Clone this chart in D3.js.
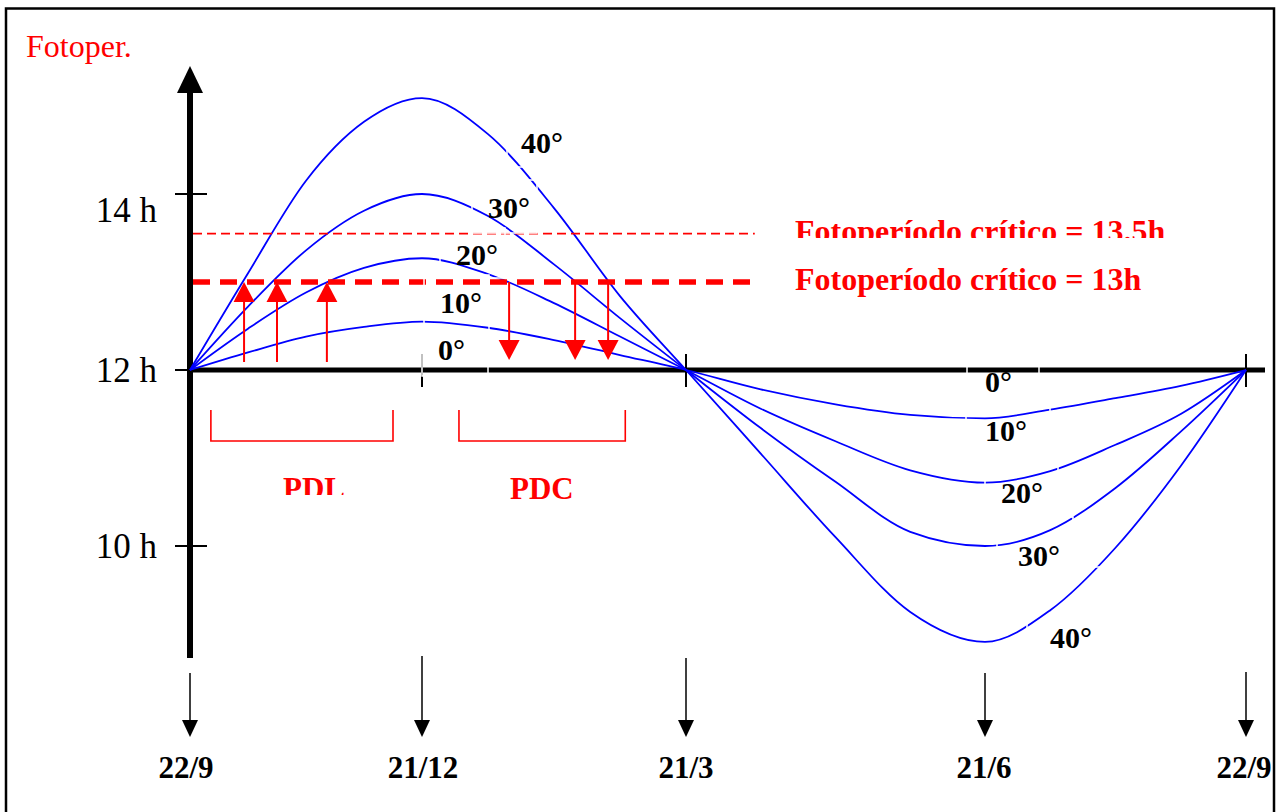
<!DOCTYPE html>
<html>
<head>
<meta charset="utf-8">
<script src="https://cdn.jsdelivr.net/npm/d3@7"></script>
<style>
  html, body { margin: 0; padding: 0; background: #fff; }
  svg { display: block; }
</style>
</head>
<body>
<div id="chart-container"></div>
<script>
// positions along the year: 0 = 22/9, 1 = 21/12, 2 = 21/3, 3 = 21/6, 4 = 22/9
const dateLabels = ["22/9", "21/12", "21/3", "21/6", "22/9"];
const datePos = [0, 1, 2, 3, 4];

const samplePos = [0, 0.25, 0.5, 0.75, 1, 1.25, 1.5, 1.75, 2, 2.25, 2.5, 2.75, 3, 3.25, 3.5, 3.75, 4];

// day length (h) per latitude
const lat40 = [12, 13.10, 14.15, 14.82, 15.09, 14.68, 13.84, 12.84, 12, 11.05, 10.10, 9.25, 8.91, 9.27, 9.98, 10.91, 12];
const lat30 = [12, 12.72, 13.36, 13.81, 14.00, 13.75, 13.20, 12.59, 12, 11.34, 10.73, 10.16, 10.00, 10.18, 10.66, 11.30, 12];
const lat20 = [12, 12.47, 12.88, 13.16, 13.27, 13.09, 12.76, 12.38, 12, 11.56, 11.19, 10.86, 10.72, 10.85, 11.15, 11.50, 12];
const lat10 = [12, 12.20, 12.38, 12.49, 12.55, 12.48, 12.34, 12.17, 12, 11.78, 11.61, 11.49, 11.45, 11.55, 11.68, 11.82, 12];
const series = [lat40, lat30, lat20, lat10];

const yTicks = [10, 12, 14];
const yTickLabels = ["10 h", "12 h", "14 h"];

// critical photoperiods (line level as drawn) and their labels
const critical = [13.55, 13];
const criticalLabels = ["Fotoperíodo crítico = 13.5h", "Fotoperíodo crítico = 13h"];

// where the curves cross the 13h line (long day / short day)
const upArrows = [0.233, 0.375, 0.59];
const downArrows = [1.33, 1.58, 1.705];

// brackets PDL / PDC (position range along the year)
const brackets = [[0.09, 0.875], [1.14, 1.77]];
const bracketLabels = ["PDL", "PDC"];

const topDegLabels = ["40°", "30°", "20°", "10°", "0°"];
const bottomDegLabels = ["0°", "10°", "20°", "30°", "40°"];

// ---------------------------------------------------------------
const W = 1284, H = 812;
const blue = "#0000ff", red = "#ff0000";
const serif = "'Liberation Serif', 'Times New Roman', serif";

const svg = d3.select("#chart-container")
    .append("svg")
    .attr("width", W)
    .attr("height", H)
    .style("font-family", serif);

const x = d3.scaleLinear().domain(datePos).range([190, 422, 686, 985, 1246]);
const y = d3.scaleLinear().domain([10, 14]).range([546, 194]);

const defs = svg.append("defs");
defs.append("clipPath").attr("id", "clip135")
    .append("rect").attr("x", 0).attr("y", 0).attr("width", W).attr("height", 238);
defs.append("clipPath").attr("id", "clipPDL")
    .append("rect").attr("x", 0).attr("y", 0).attr("width", W).attr("height", 495);

// frame
svg.append("rect")
    .attr("x", 6).attr("y", 8.5)
    .attr("width", 1268).attr("height", 830)
    .attr("fill", "none")
    .attr("stroke", "#000")
    .attr("stroke-width", 2.5);

// Fotoper. title
svg.append("text")
    .attr("x", 26).attr("y", 57)
    .attr("fill", red)
    .style("font-size", "32px")
    .text("Fotoper.");

// y axis with arrow
svg.append("line")
    .attr("x1", x(0)).attr("x2", x(0))
    .attr("y1", 658).attr("y2", 90)
    .attr("stroke", "#000").attr("stroke-width", 6);
svg.append("path")
    .attr("d", `M${x(0) - 13},93 L${x(0)},66 L${x(0) + 13},93 Z`)
    .attr("fill", "#000");

// y ticks
yTicks.forEach((t, i) => {
    svg.append("line")
        .attr("x1", 175).attr("x2", 207)
        .attr("y1", y(t)).attr("y2", y(t))
        .attr("stroke", "#000").attr("stroke-width", 2);
    svg.append("text")
        .attr("x", 157)
        .attr("y", y(t) + (t === 14 ? 28 : 12))
        .attr("text-anchor", "end")
        .style("font-size", "35px")
        .text(yTickLabels[i]);
});

// x axis (12 h)
svg.append("line")
    .attr("x1", x(0)).attr("x2", 1265)
    .attr("y1", y(12)).attr("y2", y(12))
    .attr("stroke", "#000").attr("stroke-width", 5);

[1, 2, 4].forEach(p => {
    svg.append("line")
        .attr("x1", x(p)).attr("x2", x(p))
        .attr("y1", y(12) - 16).attr("y2", y(12) + 17)
        .attr("stroke", "#000").attr("stroke-width", 2);
});

// curves
const line = d3.line()
    .x((d, i) => x(samplePos[i]))
    .y(d => y(d))
    .curve(d3.curveMonotoneX);

series.forEach(s => {
    svg.append("path")
        .datum(s)
        .attr("fill", "none")
        .attr("stroke", blue)
        .attr("stroke-width", 1.8)
        .attr("d", line);
});

// critical photoperiod lines
critical.forEach((c, i) => {
    svg.append("line")
        .attr("x1", 193).attr("x2", x(2.23))
        .attr("y1", y(c)).attr("y2", y(c))
        .attr("stroke", red)
        .attr("stroke-width", i === 0 ? 1.6 : 5.5)
        .attr("stroke-dasharray", i === 0 ? "9,5" : "17,10");
});

svg.append("text")
    .attr("x", 795).attr("y", 242)
    .attr("fill", red)
    .attr("clip-path", "url(#clip135)")
    .style("font-size", "32px").style("font-weight", "bold")
    .text(criticalLabels[0]);
svg.append("text")
    .attr("x", 795).attr("y", 290)
    .attr("fill", red)
    .style("font-size", "32px").style("font-weight", "bold")
    .text(criticalLabels[1]);

// red arrows
const head = 20, halfW = 10.5;
upArrows.forEach(p => {
    const px = x(p), tip = y(13);
    svg.append("line")
        .attr("x1", px).attr("x2", px)
        .attr("y1", y(12) - 8).attr("y2", tip + head)
        .attr("stroke", red).attr("stroke-width", 2);
    svg.append("path")
        .attr("d", `M${px - halfW},${tip + head} L${px},${tip} L${px + halfW},${tip + head} Z`)
        .attr("fill", red);
});
downArrows.forEach(p => {
    const px = x(p), tip = y(12) - 10;
    svg.append("line")
        .attr("x1", px).attr("x2", px)
        .attr("y1", y(13)).attr("y2", tip - head)
        .attr("stroke", red).attr("stroke-width", 2);
    svg.append("path")
        .attr("d", `M${px - halfW},${tip - head} L${px},${tip} L${px + halfW},${tip - head} Z`)
        .attr("fill", red);
});

// brackets
brackets.forEach((b, i) => {
    const x0 = x(b[0]), x1 = x(b[1]);
    svg.append("path")
        .attr("d", `M${x0},410 L${x0},441 L${x1},441 L${x1},410`)
        .attr("fill", "none")
        .attr("stroke", red).attr("stroke-width", 1.6);
    svg.append("text")
        .attr("x", i === 0 ? 283 : 510)
        .attr("y", 499)
        .attr("fill", red)
        .attr("clip-path", i === 0 ? "url(#clipPDL)" : null)
        .style("font-size", "31px").style("font-weight", "bold")
        .text(bracketLabels[i]);
});

// degree labels with their (white-bordered) text boxes
const topBoxes = [
    { box: [507, 115, 572, 167], tx: 521, ty: 153 },
    { box: [472, 180, 537, 233], tx: 488, ty: 218 },
    { box: [440, 228, 505, 278], tx: 456, ty: 265 },
    { box: [424, 275, 489, 330], tx: 440, ty: 313 },
    { box: [422, 332, 488, 376], tx: 438, ty: 360 }
];
const bottomBoxes = [
    { box: [967, 353, 1039, 400], tx: 985, ty: 392 },
    { box: [966, 402, 1050, 452], tx: 985, ty: 441 },
    { box: [985, 462, 1058, 515], tx: 1001, ty: 503 },
    { box: [997, 517, 1073, 575], tx: 1018, ty: 566 },
    { box: [1027, 567, 1100, 660], tx: 1050, ty: 648 }
];

function drawDeg(labels, boxes) {
    labels.forEach((lab, i) => {
        const b = boxes[i].box;
        svg.append("rect")
            .attr("x", b[0]).attr("y", b[1])
            .attr("width", b[2] - b[0]).attr("height", b[3] - b[1])
            .attr("fill", "none")
            .attr("stroke", "#fff").attr("stroke-width", 1.5);
    });
    labels.forEach((lab, i) => {
        svg.append("text")
            .attr("x", boxes[i].tx).attr("y", boxes[i].ty)
            .style("font-size", "30px").style("font-weight", "bold")
            .text(lab);
    });
}
drawDeg(topDegLabels, topBoxes);
drawDeg(bottomDegLabels, bottomBoxes);

// date arrows and labels
const arrowStart = [673, 656, 658, 673, 672];
const labelX = [186, 423, 686, 984, 1244];
datePos.forEach((p, i) => {
    const px = x(p);
    svg.append("line")
        .attr("x1", px).attr("x2", px)
        .attr("y1", arrowStart[i]).attr("y2", 722)
        .attr("stroke", "#000").attr("stroke-width", 1.5);
    svg.append("path")
        .attr("d", `M${px - 8},720 L${px},737 L${px + 8},720 Z`)
        .attr("fill", "#000");
    svg.append("text")
        .attr("x", labelX[i]).attr("y", 778)
        .attr("text-anchor", "middle")
        .style("font-size", "31px").style("font-weight", "bold")
        .text(dateLabels[i]);
});
</script>
</body>
</html>
